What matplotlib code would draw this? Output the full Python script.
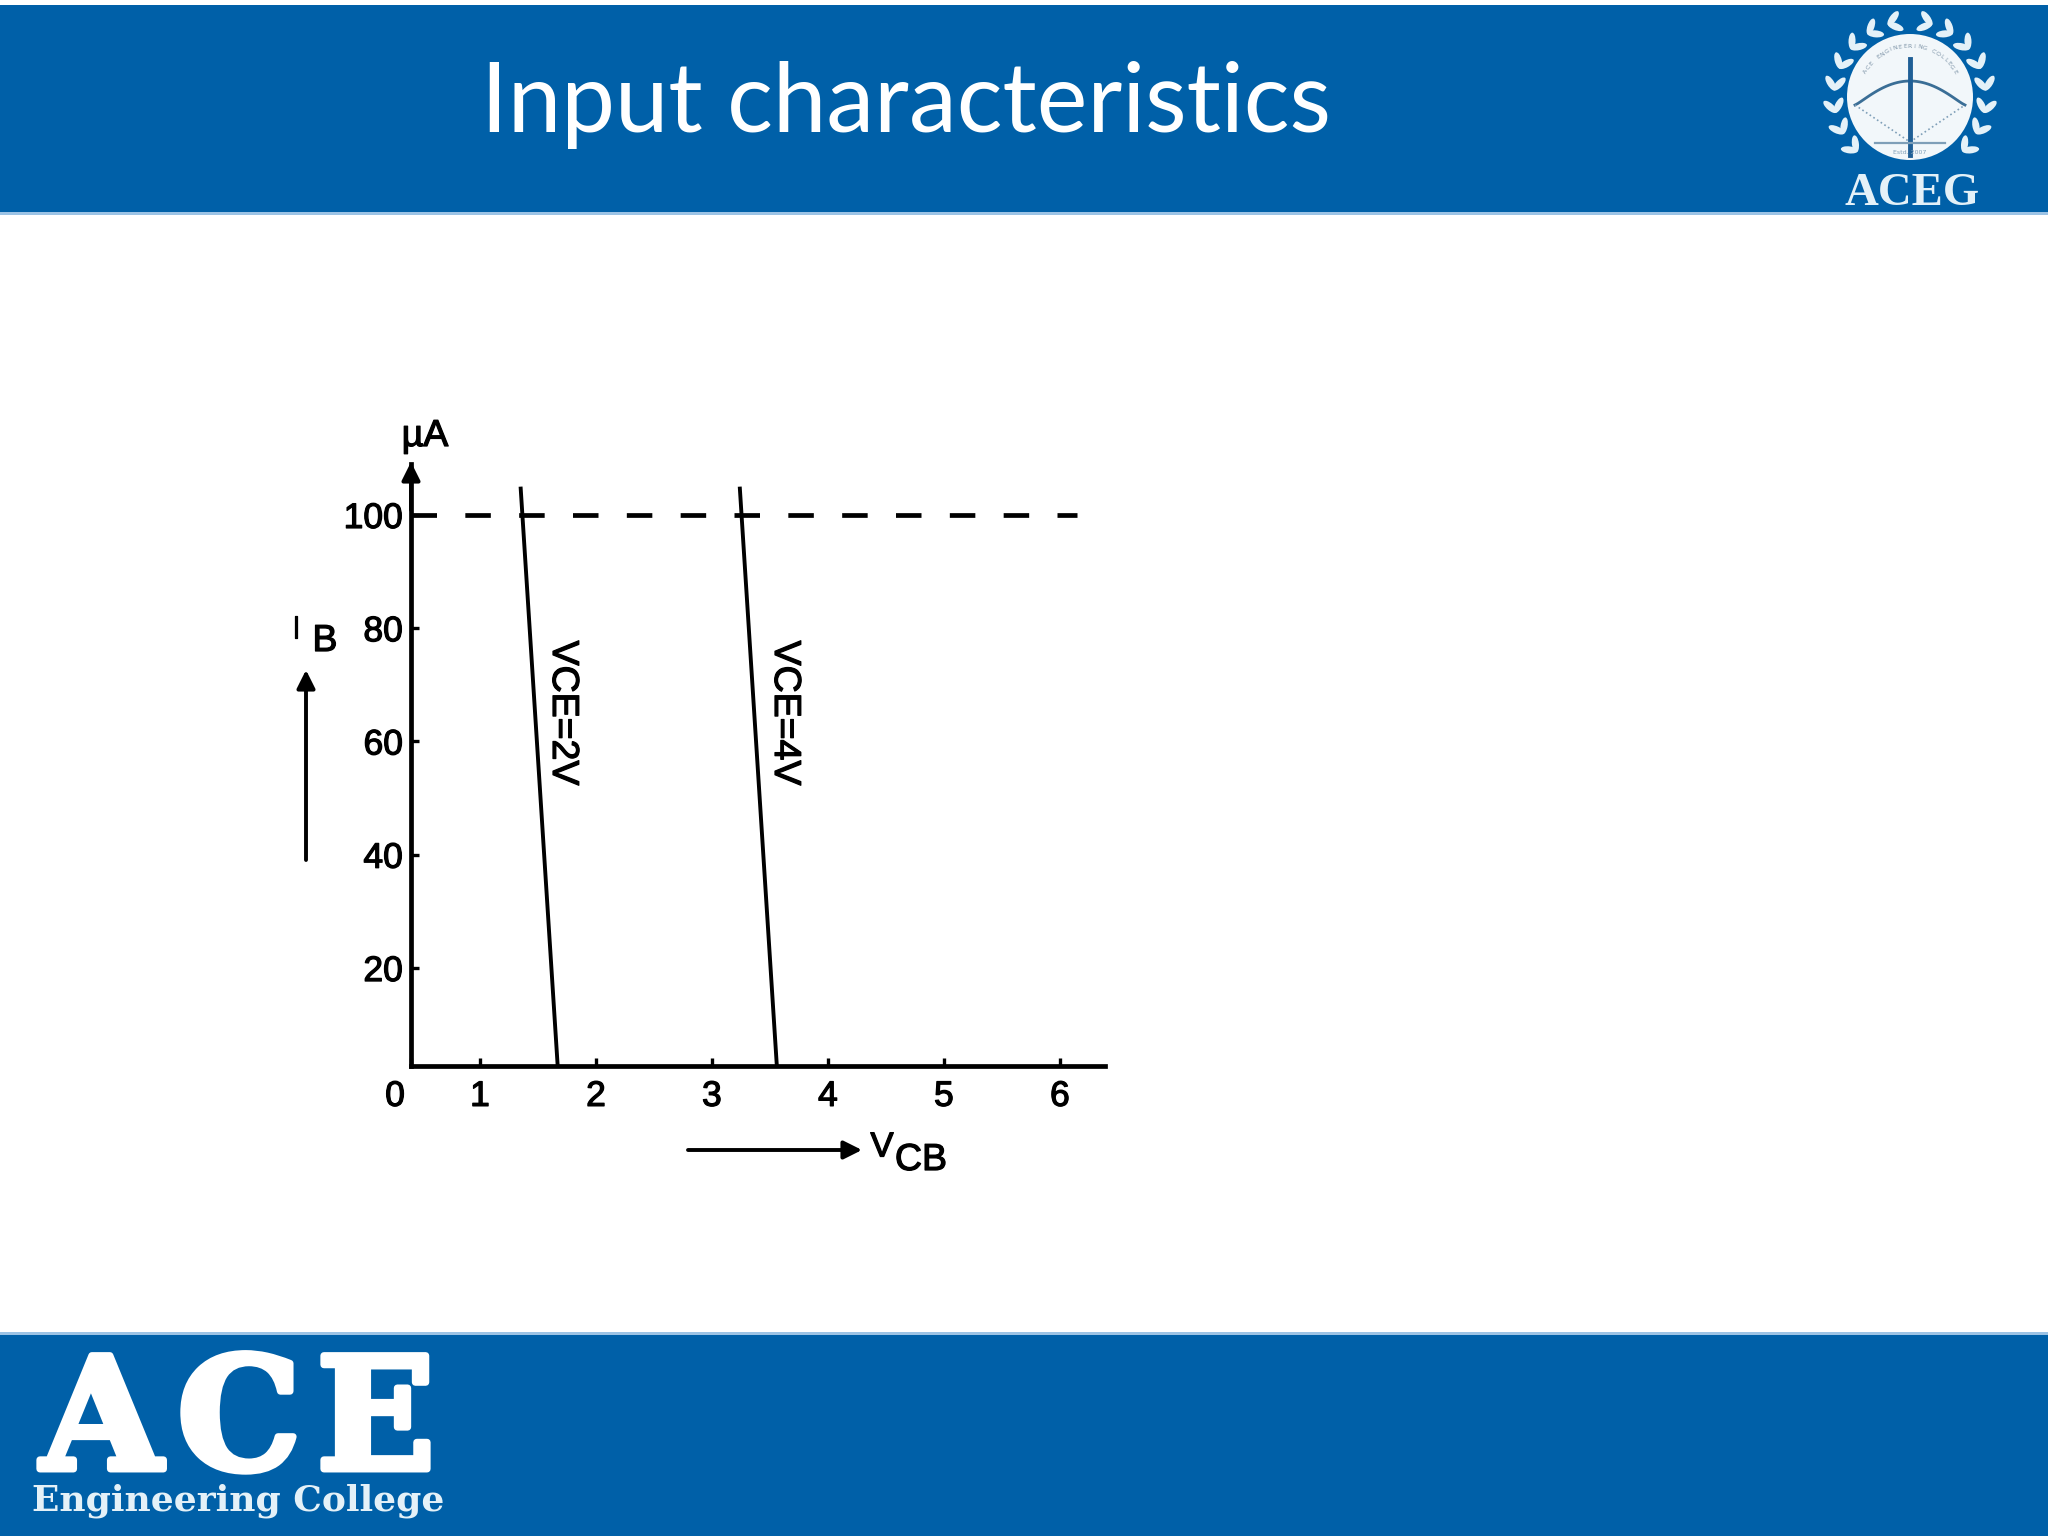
"""Input characteristics slide: IB against VCB for two VCE values."""

import numpy as np
import matplotlib

matplotlib.use("Agg")

import matplotlib.pyplot as plt
import matplotlib.patheffects as pe
from matplotlib.patches import Circle, Ellipse, Rectangle
from matplotlib.transforms import ScaledTranslation

W, H = 2048, 1536
BLUE = "#0060A8"
EDGE = "#9CC3E5"
PALE = "#E4F1F8"

x_ticks = [0.405, 1, 2, 3, 4, 5, 6]
x_tick_labels = ["0", "1", "2", "3", "4", "5", "6"]
y_ticks = [20, 40, 60, 80, 100]
y_tick_labels = ["20", "40", "60", "80", "100"]

vce2_vcb = [1.35, 1.67]
vce4_vcb = [3.24, 3.56]
vce_ib = [105, 2.7]
dash_vcb = [0.405, 6.15]
dash_ib = [100, 100]

fig = plt.figure(figsize=(W / 100, H / 100), dpi=100, facecolor="white")

# Scanned lettering is heavier than the regular face, so thicken it a little.
heavy = [pe.withStroke(linewidth=0.9, foreground="black")]

# Slide furniture is drawn in pixel coordinates on a full-figure axes.
bg = fig.add_axes([0, 0, 1, 1])
bg.set_xlim(0, W)
bg.set_ylim(H, 0)
bg.axis("off")
bg.add_patch(Rectangle((0, 5), W, 208, color=BLUE, lw=0))
bg.add_patch(Rectangle((0, 212), W, 3, color=EDGE, lw=0))
bg.add_patch(Rectangle((0, 1334), W, 202, color=BLUE, lw=0))
bg.add_patch(Rectangle((0, 1332), W, 3, color=EDGE, lw=0))

bg.text(906, 132, "Input characteristics", color="white", family="Lato",
        fontsize=69, ha="center", va="baseline")

# Footer logo
bg.text(238, 1469, "A\u200aC\u200aE", color="white", family="DejaVu Serif", weight="bold",
        fontsize=112, ha="center", va="baseline",
        path_effects=[pe.withStroke(linewidth=5, foreground="white")])
bg.text(238, 1510, "Engineering College", color=PALE, family="DejaVu Serif",
        weight="bold", fontsize=25.9, ha="center", va="baseline")

# Header logo: seal, laurel, bow and arrow
cx, cy = 1910, 97
bg.add_patch(Circle((cx, cy), 63, color="#F2F7FA", lw=0))
for ang in np.arange(-74, 46, 17):
    for side in (-1, 1):
        a = np.deg2rad(ang)
        px = cx + side * 76 * np.cos(a)
        py = cy + 76 * np.sin(a)
        # Stem direction runs up the wreath; each node carries a leaf pair.
        stem = np.array([side * np.sin(a), -np.cos(a)])
        for spread in (-38, 38):
            s = np.deg2rad(spread)
            d = np.array([stem[0] * np.cos(s) - stem[1] * np.sin(s),
                          stem[0] * np.sin(s) + stem[1] * np.cos(s)])
            bg.add_patch(Ellipse((px + d[0] * 7, py + d[1] * 7), 17, 7,
                                 angle=np.degrees(np.arctan2(d[1], d[0])),
                                 color=PALE, lw=0))
t = np.linspace(-1, 1, 40)
bg.plot(cx + 55 * t, cy + 8 - 24 * (1 - t ** 2) ** 1.2, color="#3A6E96", lw=2)
bg.plot([cx - 55, cx, cx + 55], [cy + 8, cy + 45, cy + 8], color="#7F9FB8", lw=1.2, ls=":")
bg.plot([cx, cx], [cy - 38, cy + 58], color="#1F5F96", lw=3.5)
bg.plot([cx - 35, cx + 35], [cy + 46, cy + 46], color="#7F9FB8", lw=1.6)
seal_text = "ACE ENGINEERING COLLEGE"
for ch, deg in zip(seal_text, np.linspace(-150, -30, len(seal_text))):
    r = np.deg2rad(deg)
    bg.text(cx + 51 * np.cos(r), cy + 51 * np.sin(r), ch, color="#7F95A8", fontsize=4.5,
            rotation=-deg - 90, ha="center", va="center")
bg.text(cx, cy + 56, "Estd. 2007", color="#7F9FB8", fontsize=4.5, ha="center", va="center")
bg.text(1912, 205, "ACEG", color=PALE, family="Liberation Serif", weight="bold",
        fontsize=33.7, ha="center", va="baseline")

# Chart axes, placed so the data scale matches the scanned plot
left, right, top, bottom = 411, 1105, 464, 1066
ax = fig.add_axes([left / W, 1 - bottom / H, (right - left) / W, (bottom - top) / H])
ax.patch.set_alpha(0)
ax.set_xlim(0.405, 6.39)
ax.set_ylim(2.7, 109)
for name in ("top", "right"):
    ax.spines[name].set_visible(False)
for name in ("left", "bottom"):
    ax.spines[name].set_linewidth(3.4)

ax.plot(vce2_vcb, vce_ib, color="black", lw=2.8, solid_capstyle="butt", clip_on=False)
ax.plot(vce4_vcb, vce_ib, color="black", lw=2.8, solid_capstyle="butt", clip_on=False)
ax.plot(dash_vcb, dash_ib, color="black", lw=3.4, dashes=(5.4, 6.0), clip_on=False)

ax.set_xticks(x_ticks, x_tick_labels)
ax.set_yticks(y_ticks, y_tick_labels)
ax.tick_params(axis="both", direction="in", length=6, width=2.4, labelsize=25.5)
ax.tick_params(axis="x", pad=10)
ax.tick_params(axis="y", pad=6)
for lab in ax.get_xticklabels() + ax.get_yticklabels():
    lab.set_family("Liberation Sans")
    lab.set_path_effects(heavy)
ax.get_xticklabels()[0].set_transform(
    ax.get_xticklabels()[0].get_transform()
    + ScaledTranslation(-16 / 100, 0, fig.dpi_scale_trans))

# Axis arrow and annotations, in picture pixels
arrow = dict(arrowstyle="-|>,head_length=1.1,head_width=0.55", color="black", lw=2.8,
             shrinkA=0, shrinkB=0)
bg.set_zorder(0)
ax.set_zorder(1)
bg.annotate("", xy=(411, 462), xytext=(411, 510), arrowprops=arrow)
bg.annotate("", xy=(306, 670), xytext=(306, 860), arrowprops=arrow)
bg.annotate("", xy=(862, 1150), xytext=(688, 1150), arrowprops=arrow)

sans = dict(family="Liberation Sans", color="black", ha="center", va="center",
            path_effects=heavy)
bg.text(425, 436, "µA", fontsize=27, **sans)
bg.text(296, 630, "I", fontsize=23, **sans)
bg.text(325, 641, "B", fontsize=27, **sans)
bg.text(882, 1147, "V", fontsize=25, **sans)
bg.text(921, 1160, "CB", fontsize=27, **sans)
bg.text(563, 713, "VCE=2V", fontsize=27, rotation=-90, **sans)
bg.text(785, 713, "VCE=4V", fontsize=27, rotation=-90, **sans)

fig.savefig("out.png", dpi=100, facecolor="white")
